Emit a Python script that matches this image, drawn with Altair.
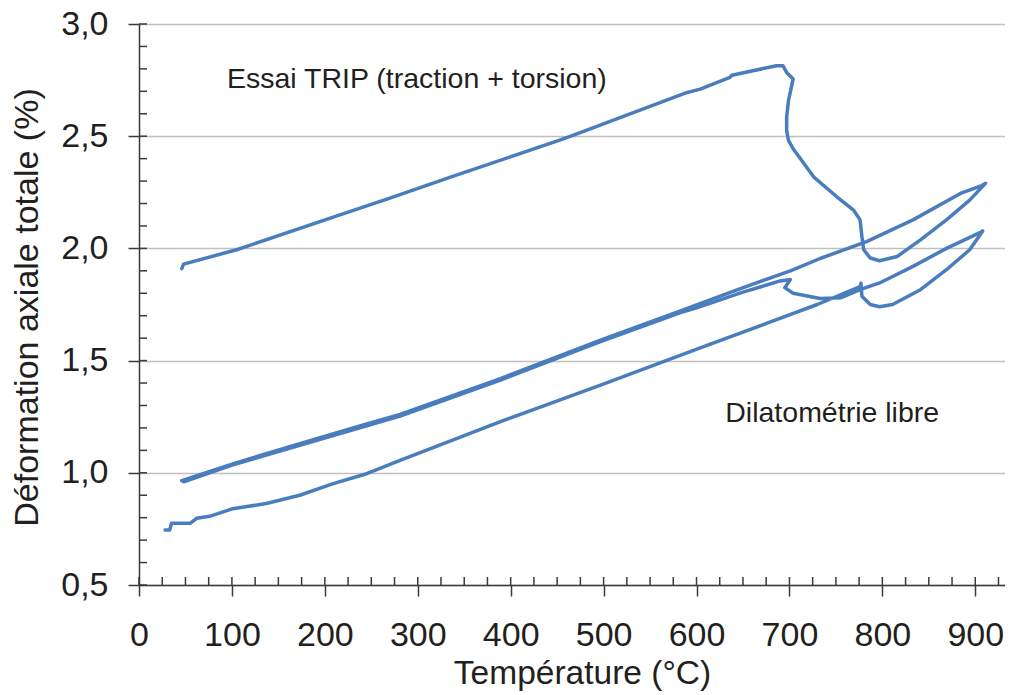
import altair as alt
import pandas as pd

# ---- data ----
# Essai TRIP (traction + torsion): heating, transformation, heating to 910 C, cooling
trip_temp = [46, 48, 106, 221, 270, 336, 452, 467, 590, 604, 636, 638, 686, 693, 697, 704,
             699, 697, 697, 699, 704, 726, 751, 769, 776, 778, 780, 787, 797, 816, 841,
             869, 894, 911, 907, 884, 833, 783, 733, 701, 640, 582, 496, 389, 281, 245,
             173, 101, 46]
trip_strain = [1.91, 1.93, 1.995, 2.156, 2.224, 2.319, 2.481, 2.504, 2.695, 2.71, 2.762, 2.772,
               2.814, 2.814, 2.784, 2.755, 2.659, 2.585, 2.526, 2.481, 2.444, 2.319, 2.23,
               2.171, 2.127, 2.053, 1.994, 1.957, 1.945, 1.964, 2.038, 2.127, 2.215, 2.29,
               2.28, 2.245, 2.127, 2.03, 1.955, 1.90, 1.81, 1.72, 1.59, 1.42, 1.26, 1.218,
               1.13, 1.04, 0.965]

# Dilatometrie libre: heating from ~30 C, transformation, heating to 910 C, cooling
dil_temp = [28, 33, 35, 55, 62, 76, 101, 137, 173, 209, 245, 281, 389, 496, 604, 676, 730,
            776, 777, 778, 787, 797, 811, 841, 869, 894, 908, 905, 869, 833, 797, 776, 755,
            733, 704, 695, 701, 690, 650, 600, 582, 496, 389, 281, 173, 101, 48]
dil_strain = [0.745, 0.745, 0.775, 0.775, 0.797, 0.806, 0.84, 0.863, 0.90, 0.952, 0.996,
              1.055, 1.228, 1.39, 1.557, 1.667, 1.75, 1.83, 1.845, 1.787, 1.75, 1.74, 1.75,
              1.816, 1.905, 1.994, 2.078, 2.07, 2.0, 1.92, 1.846, 1.816, 1.78, 1.777, 1.80,
              1.825, 1.861, 1.855, 1.805, 1.735, 1.713, 1.583, 1.413, 1.253, 1.123, 1.035, 0.96]

annot_text = ["Essai TRIP (traction + torsion)", "Dilatométrie libre"]
annot_temp = [299, 746]
annot_strain = [2.713, 1.228]

x_major = [0, 100, 200, 300, 400, 500, 600, 700, 800, 900]
x_minor = list(range(0, 926, 25))
y_major = [0.5, 1.0, 1.5, 2.0, 2.5, 3.0]
y_minor = [0.5, 0.6, 0.7, 0.8, 0.9, 1.0, 1.1, 1.2, 1.3, 1.4, 1.5, 1.6, 1.7, 1.8, 1.9,
           2.0, 2.1, 2.2, 2.3, 2.4, 2.5, 2.6, 2.7, 2.8, 2.9, 3.0]

# ---- tables ----
rows = []
for name, ts, es in [("trip", trip_temp, trip_strain), ("dil", dil_temp, dil_strain)]:
    for i, (t, e) in enumerate(zip(ts, es)):
        rows.append({"serie": name, "i": i, "T": t, "E": e})
curves = pd.DataFrame(rows)
annots = pd.DataFrame({"T": annot_temp, "E": annot_strain, "txt": annot_text})
xt = pd.DataFrame({"T": x_minor})
yt = pd.DataFrame({"E": y_minor})

W, H = 866, 561
FONT = "Liberation Sans"
TXT = "#231f20"
AX = "#3a3a3a"

x_scale = alt.Scale(domain=[0, 932], nice=False, zero=False)
y_scale = alt.Scale(domain=[0.5, 3.0], nice=False, zero=False)

x_axis = alt.Axis(values=x_major, format="d", grid=False, tickSize=11, tickWidth=1.5,
                  tickColor=AX, domainColor=AX, domainWidth=1.5, labelFontSize=34,
                  labelFont=FONT, labelColor=TXT, labelPadding=22, labelFlush=False,
                  labelOverlap=False, title="Température (°C)", titleFont=FONT,
                  titleFontSize=33.5, titleFontWeight="normal", titleColor=TXT,
                  titleX=443, titleY=98, titleBaseline="alphabetic", titleAlign="center")
y_axis = alt.Axis(values=y_major,
                  labelExpr="replace(format(datum.value, '.1f'), '.', ',')",
                  grid=True, gridColor="#c0c0c0", gridWidth=1.5,
                  tickSize=11, tickWidth=1.5, tickColor=AX, domainColor=AX, domainWidth=1.5,
                  labelFontSize=34, labelFont=FONT, labelColor=TXT, labelPadding=20,
                  labelFlush=False, labelOverlap=False,
                  title="Déformation axiale totale (%)", titleFont=FONT, titleFontSize=34,
                  titleFontWeight="normal", titleColor=TXT, titleAngle=-90,
                  titleX=-102, titleY=283, titleBaseline="alphabetic", titleAlign="center")

X = alt.X("T:Q", scale=x_scale, axis=x_axis)
Y = alt.Y("E:Q", scale=y_scale, axis=y_axis)

lines = alt.Chart(curves).mark_line(color="#4a7dbd", strokeWidth=3.5, strokeJoin="round",
                                    strokeCap="round").encode(
    x=X, y=Y, detail="serie:N", order=alt.Order("i:Q"))

ytick_in = alt.Chart(yt).mark_rule(color=AX, strokeWidth=1.5).encode(
    y=Y, x=alt.value(0), x2=alt.value(8))
xtick_in = alt.Chart(xt).mark_rule(color=AX, strokeWidth=1.5).encode(
    x=X, y=alt.value(H), y2=alt.value(H - 8))

text = alt.Chart(annots).mark_text(font=FONT, fontSize=28.5, color=TXT, align="center",
                                   baseline="alphabetic").encode(x=X, y=Y, text="txt:N")

chart = alt.layer(lines, ytick_in, xtick_in, text).properties(
    width=W, height=H,
    autosize=alt.AutoSizeParams(type="none"),
    padding={"left": 131, "top": 16, "right": 0, "bottom": 110},
).configure_view(stroke=None)

chart.save("out.html", embed_options={"renderer": "svg", "actions": False})
